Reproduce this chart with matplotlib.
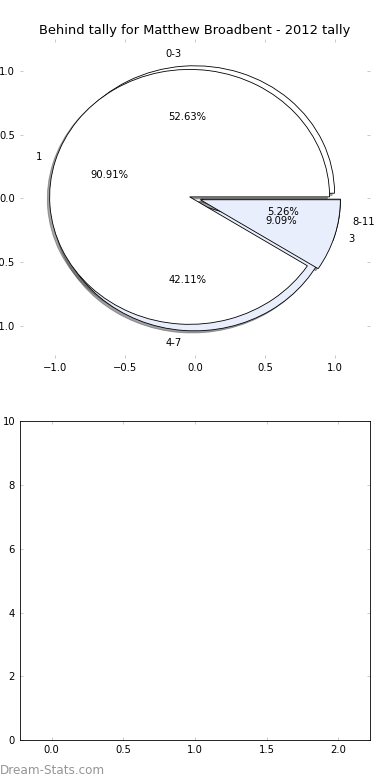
import matplotlib
matplotlib.use("Agg")
import matplotlib.pyplot as plt

# Data
title = "Behind tally for Matthew Broadbent - 2012 tally"
pie1_labels = ["0-3", "4-7", "8-11"]
pie1_values = [10, 8, 1]
pie2_labels = ["1", "3"]
pie2_values = [10, 1]
top_ticks = [-1.0, -0.5, 0.0, 0.5, 1.0]
bottom_xticks = [0.0, 0.5, 1.0, 1.5, 2.0]
bottom_yticks = [0, 2, 4, 6, 8, 10]

WHITE = "#ffffff"
BLUE = "#e8eefc"
TICK_GREY = "#b0b0b0"

plt.rcParams.update({
    "font.family": ["DejaVu Sans"],
    "font.size": 12,
    "xtick.direction": "in",
    "ytick.direction": "in",
    "xtick.top": True,
    "ytick.right": True,
    "xtick.major.size": 4,
    "ytick.major.size": 4,
    "xtick.major.pad": 6,
    "ytick.major.pad": 6,
    "xtick.color": TICK_GREY,
    "ytick.color": TICK_GREY,
    "xtick.labelcolor": "black",
    "ytick.labelcolor": "black",
    "axes.linewidth": 1.0,
    "patch.linewidth": 1.0,
})

fig = plt.figure(figsize=(6.5, 13), dpi=60, facecolor="white")
fig.subplots_adjust(left=0.0513, right=0.9487, bottom=0.0513, top=0.95, hspace=0.2)
ax1 = fig.add_subplot(2, 1, 1)
ax2 = fig.add_subplot(2, 1, 2)

ax1.pie(pie1_values, labels=pie1_labels, colors=[WHITE, BLUE, WHITE],
        explode=[0.04] * len(pie1_values), autopct="%1.2f%%", shadow=True,
        wedgeprops={"edgecolor": "black", "linewidth": 1.0},
        textprops={"fontsize": 12, "color": "black"})
ax1.pie(pie2_values, labels=pie2_labels, colors=[WHITE, BLUE],
        explode=[0.04] * len(pie2_values), autopct="%1.2f%%", shadow=True,
        wedgeprops={"edgecolor": "black", "linewidth": 1.0},
        textprops={"fontsize": 12, "color": "black"})
ax1.set_aspect("auto")
ax1.set_xlim(-1.25, 1.25)
ax1.set_ylim(-1.25, 1.25)
ax1.set_frame_on(False)
ax1.set_xticks(top_ticks)
ax1.set_yticks(top_ticks)
ax1.set_title(title, fontsize=15.6, pad=6)

ax2.set_xlim(-0.22, 2.22)
ax2.set_ylim(0, 10)
ax2.set_xticks(bottom_xticks)
ax2.set_yticks(bottom_yticks)

fig.text(0.0, 1 - 774 / 780, "Dream-Stats.com", color="#959595", fontsize=14.4,
         ha="left", va="baseline")

fig.savefig("out.png", dpi=60, facecolor="white")
